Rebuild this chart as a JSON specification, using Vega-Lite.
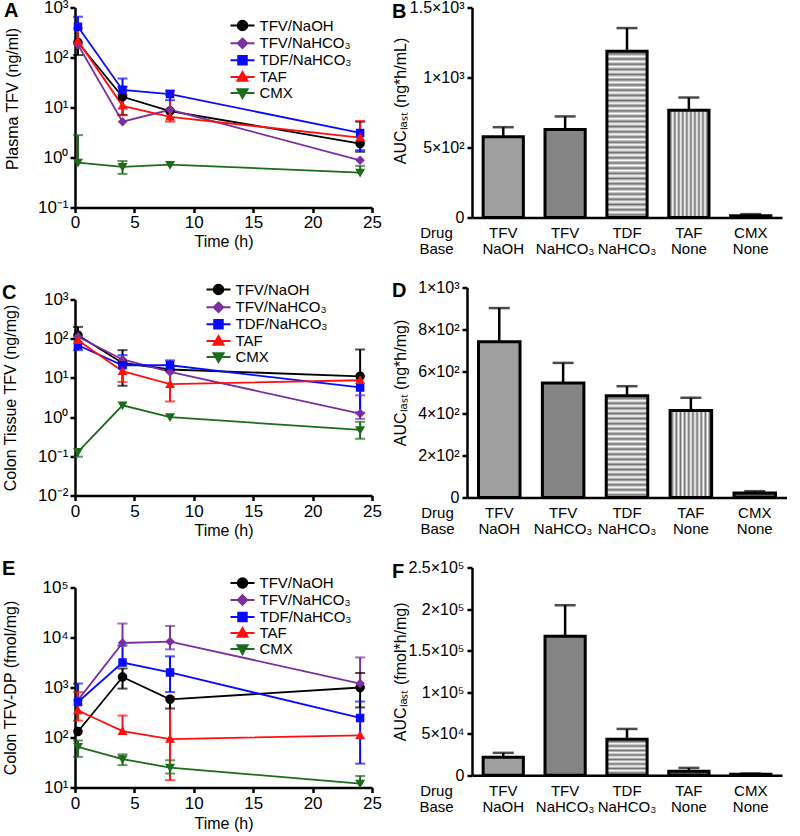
{
"$schema": "https://vega.github.io/schema/vega-lite/v6.json",
"padding": {"left": 1, "top": -1.5, "right": 0, "bottom": 0},
"config": {"font": "Liberation Sans", "view": {"stroke": null},
 "axis": {"domainColor": "black", "domainWidth": 2.5, "tickColor": "black", "tickWidth": 2.5, "labelColor": "black", "titleColor": "black", "titleFontWeight": "normal", "grid": false},
 "legend": {"labelColor": "black"}},
"spacing": 9,
"resolve": {"scale": {"color": "independent", "shape": "independent", "stroke": "independent"}, "legend": {"color": "independent", "shape": "independent", "stroke": "independent"}},
"hconcat": [
{"vconcat": [
 {"width": 297, "height": 200,
  "title": {"text": "A", "anchor": "start", "frame": "bounds", "fontSize": 20, "fontWeight": "bold", "color": "black", "offset": -38.5, "baseline": "alphabetic"},
  "data": {"values": [
{"s":"TFV/NaOH","t":0.25,"v":200,"lo":112,"hi":null},
{"s":"TFV/NaOH","t":4,"v":16.4,"lo":7.1,"hi":26},
{"s":"TFV/NaOH","t":8,"v":8.5,"lo":null,"hi":null},
{"s":"TFV/NaOH","t":24,"v":1.9,"lo":1.3,"hi":5.2},
{"s":"TFV/NaHCO₃","t":0.25,"v":180,"lo":null,"hi":null},
{"s":"TFV/NaHCO₃","t":4,"v":5.2,"lo":null,"hi":null},
{"s":"TFV/NaHCO₃","t":8,"v":9,"lo":null,"hi":null},
{"s":"TFV/NaHCO₃","t":24,"v":0.88,"lo":null,"hi":null},
{"s":"TDF/NaHCO₃","t":0.25,"v":413,"lo":null,"hi":655},
{"s":"TDF/NaHCO₃","t":4,"v":22.4,"lo":null,"hi":38},
{"s":"TDF/NaHCO₃","t":8,"v":18.6,"lo":14,"hi":21.7},
{"s":"TDF/NaHCO₃","t":24,"v":3.1,"lo":1.4,"hi":null},
{"s":"TAF","t":0.25,"v":215,"lo":null,"hi":383},
{"s":"TAF","t":4,"v":10.8,"lo":7,"hi":17.8},
{"s":"TAF","t":8,"v":6.5,"lo":5.2,"hi":17.8},
{"s":"TAF","t":24,"v":2.5,"lo":null,"hi":5.4},
{"s":"CMX","t":0.25,"v":0.79,"lo":null,"hi":2.8},
{"s":"CMX","t":4,"v":0.65,"lo":0.47,"hi":0.85},
{"s":"CMX","t":8,"v":0.72,"lo":null,"hi":null},
{"s":"CMX","t":24,"v":0.5,"lo":null,"hi":0.68}
  ]},
  "encoding": {
   "x": {"field": "t", "type": "quantitative", "scale": {"domain": [0, 25], "nice": false}, "axis": {"title": "Time (h)", "values": [0,5,10,15,20,25], "format": "d", "labelFontSize": 17, "tickSize": 5, "labelPadding": 2, "titleFontSize": 16, "titlePadding": 3, "labelFlush": false, "labelOverlap": false}},
   "y": {"field": "v", "type": "quantitative", "scale": {"type": "log", "domain": [0.1, 1000], "nice": false}, "axis": {"title": "Plasma TFV (ng/ml)", "values": [0.1,1,10,100,1000], "labelExpr": "'10' + ['⁻²','⁻¹','⁰','¹','²','³','⁴','⁵'][round(log(datum.value)/LN10) + 2]", "labelFontSize": 17, "tickSize": 5, "labelPadding": 2, "titleFontSize": 16, "titleX": -55, "titleY": 91, "titleBaseline": "bottom", "labelOverlap": false}},
   "color": {"condition": [{"test": "datum.s === 'TFV/NaOH'", "value": "#000000"}, {"test": "datum.s === 'TFV/NaHCO₃'", "value": "#7b2fa0"}, {"test": "datum.s === 'TDF/NaHCO₃'", "value": "#0a0aff"}, {"test": "datum.s === 'TAF'", "value": "#ff1010"}], "value": "#1d6b1d"}
  },
  "layer": [
   {"mark": {"type": "line", "strokeWidth": 1.8}, "encoding": {"detail": {"field": "s", "type": "nominal"}}},
   {"transform": [{"filter": "datum.hi != null"}], "mark": {"type": "rule", "strokeWidth": 2}, "encoding": {"y2": {"field": "hi"}}},
   {"transform": [{"filter": "datum.lo != null"}], "mark": {"type": "rule", "strokeWidth": 2}, "encoding": {"y": {"field": "lo", "type": "quantitative", "scale": {"type": "log", "domain": [0.1, 1000], "nice": false}}, "y2": {"field": "v"}}},
   {"transform": [{"filter": "datum.hi != null"}], "mark": {"type": "tick", "orient": "horizontal", "size": 10, "thickness": 2}, "encoding": {"y": {"field": "hi", "type": "quantitative", "scale": {"type": "log", "domain": [0.1, 1000], "nice": false}}}},
   {"transform": [{"filter": "datum.lo != null"}], "mark": {"type": "tick", "orient": "horizontal", "size": 10, "thickness": 2}, "encoding": {"y": {"field": "lo", "type": "quantitative", "scale": {"type": "log", "domain": [0.1, 1000], "nice": false}}}},
   {"mark": {"type": "point", "filled": true, "size": 100, "opacity": 1, "strokeWidth": 0}, "encoding": {
     "shape": {"field": "s", "type": "nominal", "scale": {"domain": ["TFV/NaOH","TFV/NaHCO₃","TDF/NaHCO₃","TAF","CMX"], "range": ["M-2.4,0H2.4M0.95,0A0.95,0.95,0,1,1,-0.95,0A0.95,0.95,0,1,1,0.95,0Z","M-2.4,0H2.4M0,-0.95L0.95,0L0,0.95L-0.95,0Z","M-2.4,0H2.4M-0.85,-0.85H0.85V0.85H-0.85Z","M-2.4,0H2.4M0,-1L1,0.75H-1Z","M-2.4,0H2.4M0,1L1,-0.75H-1Z"]},
      "legend": {"orient": "none", "legendX": 160, "legendY": 10.5, "title": null, "labelFontSize": 15, "labelOffset": 9.5, "rowPadding": -1.2, "padding": 0, "symbolStrokeWidth": 2, "encode": {"symbols": {"strokeWidth": {"value": 2}}}}},
     "stroke": {"field": "s", "type": "nominal", "scale": {"domain": ["TFV/NaOH","TFV/NaHCO₃","TDF/NaHCO₃","TAF","CMX"], "range": ["#000000","#7b2fa0","#0a0aff","#ff1010","#1d6b1d"]},
      "legend": {"orient": "none", "legendX": 160, "legendY": 10.5, "title": null, "labelFontSize": 15, "labelOffset": 9.5, "rowPadding": -1.2, "padding": 0, "symbolStrokeWidth": 2, "encode": {"symbols": {"strokeWidth": {"value": 2}}}}},
     "color": {"field": "s", "type": "nominal", "scale": {"domain": ["TFV/NaOH","TFV/NaHCO₃","TDF/NaHCO₃","TAF","CMX"], "range": ["#000000","#7b2fa0","#0a0aff","#ff1010","#1d6b1d"]},
      "legend": {"orient": "none", "legendX": 160, "legendY": 10.5, "title": null, "labelFontSize": 15, "labelOffset": 9.5, "rowPadding": -1.2, "padding": 0, "symbolStrokeWidth": 2, "encode": {"symbols": {"strokeWidth": {"value": 2}}}}}}}
  ]},
 {"width": 297, "height": 196,
  "title": {"text": "C", "anchor": "start", "frame": "bounds", "fontSize": 20, "fontWeight": "bold", "color": "black", "offset": -37, "baseline": "alphabetic"},
  "data": {"values": [
{"s":"TFV/NaOH","t":0.25,"v":123,"lo":null,"hi":200},
{"s":"TFV/NaOH","t":4,"v":24,"lo":6.3,"hi":51},
{"s":"TFV/NaOH","t":8,"v":16.4,"lo":null,"hi":null},
{"s":"TFV/NaOH","t":24,"v":11,"lo":null,"hi":53},
{"s":"TFV/NaHCO₃","t":0.25,"v":112,"lo":null,"hi":null},
{"s":"TFV/NaHCO₃","t":4,"v":29.5,"lo":null,"hi":null},
{"s":"TFV/NaHCO₃","t":8,"v":14.2,"lo":null,"hi":null},
{"s":"TFV/NaHCO₃","t":24,"v":1.23,"lo":0.9,"hi":3.6},
{"s":"TDF/NaHCO₃","t":0.25,"v":68,"lo":51,"hi":null},
{"s":"TDF/NaHCO₃","t":4,"v":21,"lo":null,"hi":38},
{"s":"TDF/NaHCO₃","t":8,"v":21,"lo":16,"hi":28},
{"s":"TDF/NaHCO₃","t":24,"v":5.7,"lo":1.3,"hi":null},
{"s":"TAF","t":0.25,"v":91,"lo":null,"hi":null},
{"s":"TAF","t":4,"v":14.8,"lo":7.9,"hi":26},
{"s":"TAF","t":8,"v":6.9,"lo":2.5,"hi":16},
{"s":"TAF","t":24,"v":8.7,"lo":null,"hi":null},
{"s":"CMX","t":0.25,"v":0.13,"lo":0.098,"hi":null},
{"s":"CMX","t":4,"v":2.0,"lo":null,"hi":null},
{"s":"CMX","t":8,"v":1.0,"lo":null,"hi":null},
{"s":"CMX","t":24,"v":0.47,"lo":0.28,"hi":0.76}
  ]},
  "encoding": {
   "x": {"field": "t", "type": "quantitative", "scale": {"domain": [0, 25], "nice": false}, "axis": {"title": "Time (h)", "values": [0,5,10,15,20,25], "format": "d", "labelFontSize": 17, "tickSize": 5, "labelPadding": 3, "titleFontSize": 16, "titlePadding": 3, "labelFlush": false, "labelOverlap": false}},
   "y": {"field": "v", "type": "quantitative", "scale": {"type": "log", "domain": [0.01, 1000], "nice": false}, "axis": {"title": "Colon Tissue TFV (ng/mg)", "values": [0.01,0.1,1,10,100,1000], "labelExpr": "'10' + ['⁻²','⁻¹','⁰','¹','²','³','⁴','⁵'][round(log(datum.value)/LN10) + 2]", "labelFontSize": 17, "tickSize": 5, "labelPadding": 2, "titleFontSize": 16, "titleX": -57, "titleBaseline": "bottom", "labelOverlap": false}},
   "color": {"condition": [{"test": "datum.s === 'TFV/NaOH'", "value": "#000000"}, {"test": "datum.s === 'TFV/NaHCO₃'", "value": "#7b2fa0"}, {"test": "datum.s === 'TDF/NaHCO₃'", "value": "#0a0aff"}, {"test": "datum.s === 'TAF'", "value": "#ff1010"}], "value": "#1d6b1d"}
  },
  "layer": [
   {"mark": {"type": "line", "strokeWidth": 1.8}, "encoding": {"detail": {"field": "s", "type": "nominal"}}},
   {"transform": [{"filter": "datum.hi != null"}], "mark": {"type": "rule", "strokeWidth": 2}, "encoding": {"y2": {"field": "hi"}}},
   {"transform": [{"filter": "datum.lo != null"}], "mark": {"type": "rule", "strokeWidth": 2}, "encoding": {"y": {"field": "lo", "type": "quantitative", "scale": {"type": "log", "domain": [0.01, 1000], "nice": false}}, "y2": {"field": "v"}}},
   {"transform": [{"filter": "datum.hi != null"}], "mark": {"type": "tick", "orient": "horizontal", "size": 10, "thickness": 2}, "encoding": {"y": {"field": "hi", "type": "quantitative", "scale": {"type": "log", "domain": [0.01, 1000], "nice": false}}}},
   {"transform": [{"filter": "datum.lo != null"}], "mark": {"type": "tick", "orient": "horizontal", "size": 10, "thickness": 2}, "encoding": {"y": {"field": "lo", "type": "quantitative", "scale": {"type": "log", "domain": [0.01, 1000], "nice": false}}}},
   {"mark": {"type": "point", "filled": true, "size": 100, "opacity": 1, "strokeWidth": 0}, "encoding": {
     "shape": {"field": "s", "type": "nominal", "scale": {"domain": ["TFV/NaOH","TFV/NaHCO₃","TDF/NaHCO₃","TAF","CMX"], "range": ["M-2.4,0H2.4M0.95,0A0.95,0.95,0,1,1,-0.95,0A0.95,0.95,0,1,1,0.95,0Z","M-2.4,0H2.4M0,-0.95L0.95,0L0,0.95L-0.95,0Z","M-2.4,0H2.4M-0.85,-0.85H0.85V0.85H-0.85Z","M-2.4,0H2.4M0,-1L1,0.75H-1Z","M-2.4,0H2.4M0,1L1,-0.75H-1Z"]},
      "legend": {"orient": "none", "legendX": 136, "legendY": -17.5, "title": null, "labelFontSize": 15, "labelOffset": 9.5, "rowPadding": -1.2, "padding": 0, "symbolStrokeWidth": 2, "encode": {"symbols": {"strokeWidth": {"value": 2}}}}},
     "stroke": {"field": "s", "type": "nominal", "scale": {"domain": ["TFV/NaOH","TFV/NaHCO₃","TDF/NaHCO₃","TAF","CMX"], "range": ["#000000","#7b2fa0","#0a0aff","#ff1010","#1d6b1d"]},
      "legend": {"orient": "none", "legendX": 136, "legendY": -17.5, "title": null, "labelFontSize": 15, "labelOffset": 9.5, "rowPadding": -1.2, "padding": 0, "symbolStrokeWidth": 2, "encode": {"symbols": {"strokeWidth": {"value": 2}}}}},
     "color": {"field": "s", "type": "nominal", "scale": {"domain": ["TFV/NaOH","TFV/NaHCO₃","TDF/NaHCO₃","TAF","CMX"], "range": ["#000000","#7b2fa0","#0a0aff","#ff1010","#1d6b1d"]},
      "legend": {"orient": "none", "legendX": 136, "legendY": -17.5, "title": null, "labelFontSize": 15, "labelOffset": 9.5, "rowPadding": -1.2, "padding": 0, "symbolStrokeWidth": 2, "encode": {"symbols": {"strokeWidth": {"value": 2}}}}}}}
  ]},
 {"width": 297, "height": 200,
  "title": {"text": "E", "anchor": "start", "frame": "bounds", "fontSize": 20, "fontWeight": "bold", "color": "black", "offset": -19.5, "baseline": "alphabetic"},
  "data": {"values": [
{"s":"TFV/NaOH","t":0.25,"v":132,"lo":null,"hi":null},
{"s":"TFV/NaOH","t":4,"v":1620,"lo":950,"hi":2400},
{"s":"TFV/NaOH","t":8,"v":580,"lo":380,"hi":null},
{"s":"TFV/NaOH","t":24,"v":1000,"lo":400,"hi":1950},
{"s":"TFV/NaHCO₃","t":0.25,"v":560,"lo":null,"hi":null},
{"s":"TFV/NaHCO₃","t":4,"v":7760,"lo":null,"hi":19000},
{"s":"TFV/NaHCO₃","t":8,"v":8300,"lo":5800,"hi":17000},
{"s":"TFV/NaHCO₃","t":24,"v":1200,"lo":null,"hi":4000},
{"s":"TDF/NaHCO₃","t":0.25,"v":513,"lo":null,"hi":1200},
{"s":"TDF/NaHCO₃","t":4,"v":3150,"lo":null,"hi":6900},
{"s":"TDF/NaHCO₃","t":8,"v":2000,"lo":810,"hi":4200},
{"s":"TDF/NaHCO₃","t":24,"v":246,"lo":30,"hi":525},
{"s":"TAF","t":0.25,"v":347,"lo":218,"hi":810},
{"s":"TAF","t":4,"v":134,"lo":null,"hi":275},
{"s":"TAF","t":8,"v":93,"lo":14,"hi":650},
{"s":"TAF","t":24,"v":110,"lo":null,"hi":null},
{"s":"CMX","t":0.25,"v":65,"lo":41,"hi":87},
{"s":"CMX","t":4,"v":37,"lo":28,"hi":46},
{"s":"CMX","t":8,"v":25,"lo":19,"hi":35},
{"s":"CMX","t":24,"v":12,"lo":null,"hi":17}
  ]},
  "encoding": {
   "x": {"field": "t", "type": "quantitative", "scale": {"domain": [0, 25], "nice": false}, "axis": {"title": "Time (h)", "values": [0,5,10,15,20,25], "format": "d", "labelFontSize": 17, "tickSize": 5, "labelPadding": 3, "titleFontSize": 16, "titlePadding": 4, "labelFlush": false, "labelOverlap": false}},
   "y": {"field": "v", "type": "quantitative", "scale": {"type": "log", "domain": [10, 100000], "nice": false}, "axis": {"title": "Colon TFV-DP  (fmol/mg)", "values": [10,100,1000,10000,100000], "labelExpr": "'10' + ['⁻²','⁻¹','⁰','¹','²','³','⁴','⁵'][round(log(datum.value)/LN10) + 2]", "labelFontSize": 17, "tickSize": 5, "labelPadding": 2, "titleFontSize": 16, "titleX": -57, "titleBaseline": "bottom", "labelOverlap": false}},
   "color": {"condition": [{"test": "datum.s === 'TFV/NaOH'", "value": "#000000"}, {"test": "datum.s === 'TFV/NaHCO₃'", "value": "#7b2fa0"}, {"test": "datum.s === 'TDF/NaHCO₃'", "value": "#0a0aff"}, {"test": "datum.s === 'TAF'", "value": "#ff1010"}], "value": "#1d6b1d"}
  },
  "layer": [
   {"mark": {"type": "line", "strokeWidth": 1.8}, "encoding": {"detail": {"field": "s", "type": "nominal"}}},
   {"transform": [{"filter": "datum.hi != null"}], "mark": {"type": "rule", "strokeWidth": 2}, "encoding": {"y2": {"field": "hi"}}},
   {"transform": [{"filter": "datum.lo != null"}], "mark": {"type": "rule", "strokeWidth": 2}, "encoding": {"y": {"field": "lo", "type": "quantitative", "scale": {"type": "log", "domain": [10, 100000], "nice": false}}, "y2": {"field": "v"}}},
   {"transform": [{"filter": "datum.hi != null"}], "mark": {"type": "tick", "orient": "horizontal", "size": 10, "thickness": 2}, "encoding": {"y": {"field": "hi", "type": "quantitative", "scale": {"type": "log", "domain": [10, 100000], "nice": false}}}},
   {"transform": [{"filter": "datum.lo != null"}], "mark": {"type": "tick", "orient": "horizontal", "size": 10, "thickness": 2}, "encoding": {"y": {"field": "lo", "type": "quantitative", "scale": {"type": "log", "domain": [10, 100000], "nice": false}}}},
   {"mark": {"type": "point", "filled": true, "size": 100, "opacity": 1, "strokeWidth": 0}, "encoding": {
     "shape": {"field": "s", "type": "nominal", "scale": {"domain": ["TFV/NaOH","TFV/NaHCO₃","TDF/NaHCO₃","TAF","CMX"], "range": ["M-2.4,0H2.4M0.95,0A0.95,0.95,0,1,1,-0.95,0A0.95,0.95,0,1,1,0.95,0Z","M-2.4,0H2.4M0,-0.95L0.95,0L0,0.95L-0.95,0Z","M-2.4,0H2.4M-0.85,-0.85H0.85V0.85H-0.85Z","M-2.4,0H2.4M0,-1L1,0.75H-1Z","M-2.4,0H2.4M0,1L1,-0.75H-1Z"]},
      "legend": {"orient": "none", "legendX": 160, "legendY": -12, "title": null, "labelFontSize": 15, "labelOffset": 9.5, "rowPadding": -3, "padding": 0, "symbolStrokeWidth": 2, "encode": {"symbols": {"strokeWidth": {"value": 2}}}}},
     "stroke": {"field": "s", "type": "nominal", "scale": {"domain": ["TFV/NaOH","TFV/NaHCO₃","TDF/NaHCO₃","TAF","CMX"], "range": ["#000000","#7b2fa0","#0a0aff","#ff1010","#1d6b1d"]},
      "legend": {"orient": "none", "legendX": 160, "legendY": -12, "title": null, "labelFontSize": 15, "labelOffset": 9.5, "rowPadding": -3, "padding": 0, "symbolStrokeWidth": 2, "encode": {"symbols": {"strokeWidth": {"value": 2}}}}},
     "color": {"field": "s", "type": "nominal", "scale": {"domain": ["TFV/NaOH","TFV/NaHCO₃","TDF/NaHCO₃","TAF","CMX"], "range": ["#000000","#7b2fa0","#0a0aff","#ff1010","#1d6b1d"]},
      "legend": {"orient": "none", "legendX": 160, "legendY": -12, "title": null, "labelFontSize": 15, "labelOffset": 9.5, "rowPadding": -3, "padding": 0, "symbolStrokeWidth": 2, "encode": {"symbols": {"strokeWidth": {"value": 2}}}}}}}
  ]}
 ],
 "spacing": 92, "bounds": "flush",
 "resolve": {"scale": {"color": "independent", "shape": "independent", "stroke": "independent"}, "legend": {"color": "independent", "shape": "independent", "stroke": "independent"}}
},
{"vconcat": [
 {"width": 310, "height": 210,
  "title": {"text": "B", "anchor": "start", "frame": "bounds", "fontSize": 20, "fontWeight": "bold", "color": "black", "offset": -38, "baseline": "alphabetic"},
  "data": {"values": [
   {"g": "TFV/NaOH", "v": 577, "hi": 645},
   {"g": "TFV/NaHCO₃", "v": 628, "hi": 722},
   {"g": "TDF/NaHCO₃", "v": 1188, "hi": 1353},
   {"g": "TAF/None", "v": 766, "hi": 857},
   {"g": "CMX/None", "v": 12, "hi": 24}
  ]},
  "encoding": {
   "x": {"field": "g", "type": "nominal", "sort": null, "scale": {"paddingInner": 0.35, "paddingOuter": 0.18}, "axis": {"title": ["Drug", "Base"], "labelExpr": "split(datum.value, '/')", "labelAngle": 0, "ticks": false, "labelPadding": 8, "labelFontSize": 15, "labelLineHeight": 16, "labelBaseline": "top", "titleFontSize": 15, "titleLineHeight": 16, "titleX": -36, "titleY": 8, "titleAlign": "center", "titleBaseline": "top"}},
   "y": {"field": "v", "type": "quantitative", "scale": {"domain": [0, 1500], "nice": false}, "axis": {"title": "AUCₗₐₛₜ (ng*h/mL)", "values": [0, 500, 1000, 1500], "labelExpr": "datum.value == 0 ? '0' : format(datum.value / pow(10, floor(log(datum.value)/LN10 + 1e-9)), '~g') + '×10' + ['⁰','¹','²','³','⁴','⁵'][floor(log(datum.value)/LN10 + 1e-9)]", "labelFontSize": 16, "tickSize": 5, "labelPadding": 3, "titleFontSize": 16, "titleX": -64, "titleY": 93, "titleBaseline": "bottom"}}
  },
  "layer": [
   {"mark": {"type": "rule", "strokeWidth": 2.5, "color": "black"}, "encoding": {"y2": {"field": "hi"}}},
   {"mark": {"type": "tick", "orient": "horizontal", "size": 21, "thickness": 2.5, "color": "black"}, "encoding": {"y": {"field": "hi", "type": "quantitative", "scale": {"domain": [0, 1500], "nice": false}}}},
   {"mark": {"type": "bar", "stroke": "black", "strokeWidth": 3}, "encoding": {"fill": {"condition": [
     {"test": "datum.g === 'TDF/NaHCO₃'", "value": {"gradient": "linear", "x1": 0, "y1": 0, "x2": 0, "y2": 1, "stops": [
{"offset":0,"color":"#ffffff"},{"offset":0.015625,"color":"#707070"},{"offset":0.03125,"color":"#ffffff"},{"offset":0.046875,"color":"#707070"},{"offset":0.0625,"color":"#ffffff"},{"offset":0.078125,"color":"#707070"},{"offset":0.09375,"color":"#ffffff"},{"offset":0.109375,"color":"#707070"},{"offset":0.125,"color":"#ffffff"},{"offset":0.140625,"color":"#707070"},{"offset":0.15625,"color":"#ffffff"},{"offset":0.171875,"color":"#707070"},{"offset":0.1875,"color":"#ffffff"},{"offset":0.203125,"color":"#707070"},{"offset":0.21875,"color":"#ffffff"},{"offset":0.234375,"color":"#707070"},{"offset":0.25,"color":"#ffffff"},{"offset":0.265625,"color":"#707070"},{"offset":0.28125,"color":"#ffffff"},{"offset":0.296875,"color":"#707070"},{"offset":0.3125,"color":"#ffffff"},{"offset":0.328125,"color":"#707070"},{"offset":0.34375,"color":"#ffffff"},{"offset":0.359375,"color":"#707070"},{"offset":0.375,"color":"#ffffff"},{"offset":0.390625,"color":"#707070"},{"offset":0.40625,"color":"#ffffff"},{"offset":0.421875,"color":"#707070"},{"offset":0.4375,"color":"#ffffff"},{"offset":0.453125,"color":"#707070"},{"offset":0.46875,"color":"#ffffff"},{"offset":0.484375,"color":"#707070"},{"offset":0.5,"color":"#ffffff"},{"offset":0.515625,"color":"#707070"},{"offset":0.53125,"color":"#ffffff"},{"offset":0.546875,"color":"#707070"},{"offset":0.5625,"color":"#ffffff"},{"offset":0.578125,"color":"#707070"},{"offset":0.59375,"color":"#ffffff"},{"offset":0.609375,"color":"#707070"},{"offset":0.625,"color":"#ffffff"},{"offset":0.640625,"color":"#707070"},{"offset":0.65625,"color":"#ffffff"},{"offset":0.671875,"color":"#707070"},{"offset":0.6875,"color":"#ffffff"},{"offset":0.703125,"color":"#707070"},{"offset":0.71875,"color":"#ffffff"},{"offset":0.734375,"color":"#707070"},{"offset":0.75,"color":"#ffffff"},{"offset":0.765625,"color":"#707070"},{"offset":0.78125,"color":"#ffffff"},{"offset":0.796875,"color":"#707070"},{"offset":0.8125,"color":"#ffffff"},{"offset":0.828125,"color":"#707070"},{"offset":0.84375,"color":"#ffffff"},{"offset":0.859375,"color":"#707070"},{"offset":0.875,"color":"#ffffff"},{"offset":0.890625,"color":"#707070"},{"offset":0.90625,"color":"#ffffff"},{"offset":0.921875,"color":"#707070"},{"offset":0.9375,"color":"#ffffff"},{"offset":0.953125,"color":"#707070"},{"offset":0.96875,"color":"#ffffff"},{"offset":0.984375,"color":"#707070"},{"offset":1,"color":"#ffffff"}]}},
     {"test": "datum.g === 'TAF/None'", "value": {"gradient": "linear", "x1": 0, "y1": 0, "x2": 1, "y2": 0, "stops": [
{"offset":0,"color":"#ffffff"},{"offset":0.05,"color":"#707070"},{"offset":0.1,"color":"#ffffff"},{"offset":0.15,"color":"#707070"},{"offset":0.2,"color":"#ffffff"},{"offset":0.25,"color":"#707070"},{"offset":0.3,"color":"#ffffff"},{"offset":0.35,"color":"#707070"},{"offset":0.4,"color":"#ffffff"},{"offset":0.45,"color":"#707070"},{"offset":0.5,"color":"#ffffff"},{"offset":0.55,"color":"#707070"},{"offset":0.6,"color":"#ffffff"},{"offset":0.65,"color":"#707070"},{"offset":0.7,"color":"#ffffff"},{"offset":0.75,"color":"#707070"},{"offset":0.8,"color":"#ffffff"},{"offset":0.85,"color":"#707070"},{"offset":0.9,"color":"#ffffff"},{"offset":0.95,"color":"#707070"},{"offset":1,"color":"#ffffff"}]}},
     {"test": "datum.g === 'TFV/NaHCO₃'", "value": "#858585"},
     {"test": "datum.g === 'CMX/None'", "value": "#555555"}
    ], "value": "#a0a0a0"}}}
  ]},
 {"width": 320, "height": 210,
  "title": {"text": "D", "anchor": "start", "frame": "bounds", "fontSize": 20, "fontWeight": "bold", "color": "black", "offset": -37, "baseline": "alphabetic"},
  "data": {"values": [
   {"g": "TFV/NaOH", "v": 742, "hi": 902},
   {"g": "TFV/NaHCO₃", "v": 545, "hi": 641},
   {"g": "TDF/NaHCO₃", "v": 485, "hi": 530},
   {"g": "TAF/None", "v": 414, "hi": 475},
   {"g": "CMX/None", "v": 22, "hi": 30}
  ]},
  "encoding": {
   "x": {"field": "g", "type": "nominal", "sort": null, "scale": {"paddingInner": 0.35, "paddingOuter": 0.18}, "axis": {"title": ["Drug", "Base"], "labelExpr": "split(datum.value, '/')", "labelAngle": 0, "ticks": false, "labelPadding": 8, "labelFontSize": 15, "labelLineHeight": 16, "labelBaseline": "top", "titleFontSize": 15, "titleLineHeight": 16, "titleX": -30, "titleY": 8, "titleAlign": "center", "titleBaseline": "top"}},
   "y": {"field": "v", "type": "quantitative", "scale": {"domain": [0, 1000], "nice": false}, "axis": {"title": "AUCₗₐₛₜ (ng*h/mg)", "values": [0, 200, 400, 600, 800, 1000], "labelExpr": "datum.value == 0 ? '0' : format(datum.value / pow(10, floor(log(datum.value)/LN10 + 1e-9)), '~g') + '×10' + ['⁰','¹','²','³','⁴','⁵'][floor(log(datum.value)/LN10 + 1e-9)]", "labelFontSize": 16, "tickSize": 5, "labelPadding": 3, "titleFontSize": 16, "titleX": -59, "titleY": 95, "titleBaseline": "bottom"}}
  },
  "layer": [
   {"mark": {"type": "rule", "strokeWidth": 2.5, "color": "black"}, "encoding": {"y2": {"field": "hi"}}},
   {"mark": {"type": "tick", "orient": "horizontal", "size": 21, "thickness": 2.5, "color": "black"}, "encoding": {"y": {"field": "hi", "type": "quantitative", "scale": {"domain": [0, 1000], "nice": false}}}},
   {"mark": {"type": "bar", "stroke": "black", "strokeWidth": 3}, "encoding": {"fill": {"condition": [
     {"test": "datum.g === 'TDF/NaHCO₃'", "value": {"gradient": "linear", "x1": 0, "y1": 0, "x2": 0, "y2": 1, "stops": [
{"offset":0,"color":"#ffffff"},{"offset":0.025,"color":"#707070"},{"offset":0.05,"color":"#ffffff"},{"offset":0.075,"color":"#707070"},{"offset":0.1,"color":"#ffffff"},{"offset":0.125,"color":"#707070"},{"offset":0.15,"color":"#ffffff"},{"offset":0.175,"color":"#707070"},{"offset":0.2,"color":"#ffffff"},{"offset":0.225,"color":"#707070"},{"offset":0.25,"color":"#ffffff"},{"offset":0.275,"color":"#707070"},{"offset":0.3,"color":"#ffffff"},{"offset":0.325,"color":"#707070"},{"offset":0.35,"color":"#ffffff"},{"offset":0.375,"color":"#707070"},{"offset":0.4,"color":"#ffffff"},{"offset":0.425,"color":"#707070"},{"offset":0.45,"color":"#ffffff"},{"offset":0.475,"color":"#707070"},{"offset":0.5,"color":"#ffffff"},{"offset":0.525,"color":"#707070"},{"offset":0.55,"color":"#ffffff"},{"offset":0.575,"color":"#707070"},{"offset":0.6,"color":"#ffffff"},{"offset":0.625,"color":"#707070"},{"offset":0.65,"color":"#ffffff"},{"offset":0.675,"color":"#707070"},{"offset":0.7,"color":"#ffffff"},{"offset":0.725,"color":"#707070"},{"offset":0.75,"color":"#ffffff"},{"offset":0.775,"color":"#707070"},{"offset":0.8,"color":"#ffffff"},{"offset":0.825,"color":"#707070"},{"offset":0.85,"color":"#ffffff"},{"offset":0.875,"color":"#707070"},{"offset":0.9,"color":"#ffffff"},{"offset":0.925,"color":"#707070"},{"offset":0.95,"color":"#ffffff"},{"offset":0.975,"color":"#707070"},{"offset":1,"color":"#ffffff"}]}},
     {"test": "datum.g === 'TAF/None'", "value": {"gradient": "linear", "x1": 0, "y1": 0, "x2": 1, "y2": 0, "stops": [
{"offset":0,"color":"#ffffff"},{"offset":0.05,"color":"#707070"},{"offset":0.1,"color":"#ffffff"},{"offset":0.15,"color":"#707070"},{"offset":0.2,"color":"#ffffff"},{"offset":0.25,"color":"#707070"},{"offset":0.3,"color":"#ffffff"},{"offset":0.35,"color":"#707070"},{"offset":0.4,"color":"#ffffff"},{"offset":0.45,"color":"#707070"},{"offset":0.5,"color":"#ffffff"},{"offset":0.55,"color":"#707070"},{"offset":0.6,"color":"#ffffff"},{"offset":0.65,"color":"#707070"},{"offset":0.7,"color":"#ffffff"},{"offset":0.75,"color":"#707070"},{"offset":0.8,"color":"#ffffff"},{"offset":0.85,"color":"#707070"},{"offset":0.9,"color":"#ffffff"},{"offset":0.95,"color":"#707070"},{"offset":1,"color":"#ffffff"}]}},
     {"test": "datum.g === 'TFV/NaHCO₃'", "value": "#858585"},
     {"test": "datum.g === 'CMX/None'", "value": "#555555"}
    ], "value": "#a0a0a0"}}}
  ]},
 {"width": 310, "height": 207.7,
  "title": {"text": "F", "anchor": "start", "frame": "bounds", "fontSize": 20, "fontWeight": "bold", "color": "black", "offset": -38.4, "baseline": "alphabetic"},
  "data": {"values": [
   {"g": "TFV/NaOH", "v": 21700, "hi": 26900},
   {"g": "TFV/NaHCO₃", "v": 167300, "hi": 204600},
   {"g": "TDF/NaHCO₃", "v": 43300, "hi": 55700},
   {"g": "TAF/None", "v": 4800, "hi": 8800},
   {"g": "CMX/None", "v": 1200, "hi": 2000}
  ]},
  "encoding": {
   "x": {"field": "g", "type": "nominal", "sort": null, "scale": {"paddingInner": 0.35, "paddingOuter": 0.18}, "axis": {"title": ["Drug", "Base"], "labelExpr": "split(datum.value, '/')", "labelAngle": 0, "ticks": false, "labelPadding": 8, "labelFontSize": 15, "labelLineHeight": 16, "labelBaseline": "top", "titleFontSize": 15, "titleLineHeight": 16, "titleX": -36, "titleY": 8, "titleAlign": "center", "titleBaseline": "top"}},
   "y": {"field": "v", "type": "quantitative", "scale": {"domain": [0, 250000], "nice": false}, "axis": {"title": "AUCₗₐₛₜ (fmol*h/mg)", "values": [0, 50000, 100000, 150000, 200000, 250000], "labelExpr": "datum.value == 0 ? '0' : format(datum.value / pow(10, floor(log(datum.value)/LN10 + 1e-9)), '~g') + '×10' + ['⁰','¹','²','³','⁴','⁵'][floor(log(datum.value)/LN10 + 1e-9)]", "labelFontSize": 16, "tickSize": 5, "labelPadding": 3, "titleFontSize": 16, "titleX": -64, "titleBaseline": "bottom"}}
  },
  "layer": [
   {"mark": {"type": "rule", "strokeWidth": 2.5, "color": "black"}, "encoding": {"y2": {"field": "hi"}}},
   {"mark": {"type": "tick", "orient": "horizontal", "size": 21, "thickness": 2.5, "color": "black"}, "encoding": {"y": {"field": "hi", "type": "quantitative", "scale": {"domain": [0, 250000], "nice": false}}}},
   {"mark": {"type": "bar", "stroke": "black", "strokeWidth": 3}, "encoding": {"fill": {"condition": [
     {"test": "datum.g === 'TDF/NaHCO₃'", "value": {"gradient": "linear", "x1": 0, "y1": 0, "x2": 0, "y2": 1, "stops": [
{"offset":0,"color":"#ffffff"},{"offset":0.0625,"color":"#707070"},{"offset":0.125,"color":"#ffffff"},{"offset":0.1875,"color":"#707070"},{"offset":0.25,"color":"#ffffff"},{"offset":0.3125,"color":"#707070"},{"offset":0.375,"color":"#ffffff"},{"offset":0.4375,"color":"#707070"},{"offset":0.5,"color":"#ffffff"},{"offset":0.5625,"color":"#707070"},{"offset":0.625,"color":"#ffffff"},{"offset":0.6875,"color":"#707070"},{"offset":0.75,"color":"#ffffff"},{"offset":0.8125,"color":"#707070"},{"offset":0.875,"color":"#ffffff"},{"offset":0.9375,"color":"#707070"},{"offset":1,"color":"#ffffff"}]}},
     {"test": "datum.g === 'TAF/None'", "value": "#606060"},
     {"test": "datum.g === 'TFV/NaHCO₃'", "value": "#858585"},
     {"test": "datum.g === 'CMX/None'", "value": "#555555"}
    ], "value": "#a0a0a0"}}}
  ]}
], "spacing": 70, "bounds": "flush", "center": true}
]
}
